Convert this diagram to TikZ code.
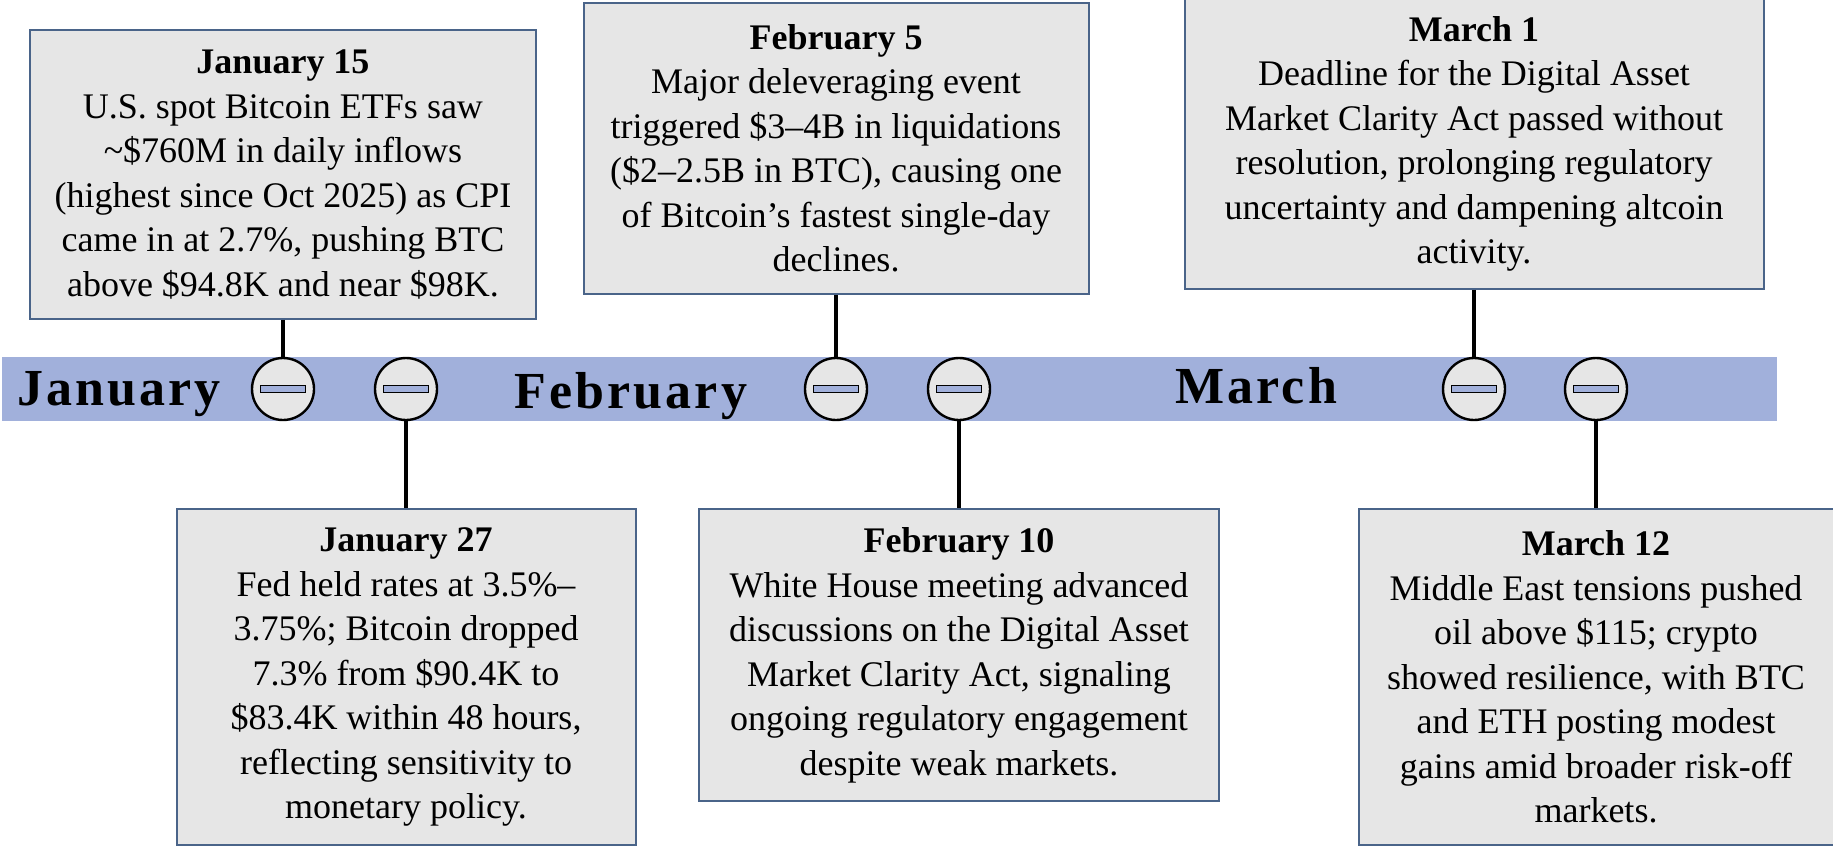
\documentclass[tikz,border=0pt]{standalone}
\usepackage{fontspec}
\setmainfont{Liberation Serif}
\newfontfamily\monthfont[LetterSpace=6]{Liberation Serif}
\usepackage{tikz}
\usetikzlibrary{positioning}
\definecolor{bandblue}{HTML}{A1B0DB}
\definecolor{cardgray}{HTML}{E6E6E6}
\definecolor{cardedge}{HTML}{4A6489}

\begin{document}
\begin{tikzpicture}[x=0.5pt, y=-0.5pt]
	\useasboundingbox (0,0) rectangle (1833,846);
	\fill[bandblue] (2,357) rectangle (1777,421);
	\begin{scope}[every node/.style = {anchor=base west, inner sep=0,
			font=\monthfont\bfseries\fontsize{26}{30}\selectfont}]
		\node (jan) at (17,405) {January};
		\node (feb) at (514,408) {February};
		\node (mar) at (1175,403) {March};
	\end{scope}
	\begin{scope}[every node/.style = {circle, draw=black, line width=1.2pt, fill=cardgray,
			minimum size=31pt, inner sep=0,
			path picture={\draw[line width=0.8pt, fill=bandblue]
				([xshift=-11.25pt, yshift=-1.75pt]path picture bounding box.center) rectangle ++(22.5pt,3.5pt);}}]
		\foreach \name/\x in {d15/283, d27/406, d5/836, d10/959, d1/1474, d12/1596}
			\node (\name) at (\x,389) {};
	\end{scope}
	\begin{scope}[every node/.style = {draw=cardedge, line width=1pt, fill=cardgray,
			align=center, inner sep=0, font=\fontsize{18}{22.25}\selectfont}]
		\node[minimum width=253pt, minimum height=144.5pt, above=18.5pt of d15] (e15)
			{\textbf{January 15}\\U.S. spot Bitcoin ETFs saw\\\textasciitilde\$760M in daily inflows\\(highest since Oct 2025) as CPI\\came in at 2.7\%, pushing BTC\\above \$94.8K and near \$98K.};
		\node[minimum width=229.5pt, minimum height=168pt, below=43.5pt of d27] (e27)
			{\textbf{January 27}\\Fed held rates at 3.5\%--\\3.75\%; Bitcoin dropped\\7.3\% from \$90.4K to\\\$83.4K within 48 hours,\\reflecting sensitivity to\\monetary policy.};
		\node[minimum width=252.5pt, minimum height=145.5pt, above=31pt of d5] (e5)
			{\textbf{February 5}\\Major deleveraging event\\triggered \$3--4B in liquidations\\(\$2--2.5B in BTC), causing one\\of Bitcoin’s fastest single-day\\declines.};
		\node[minimum width=260pt, minimum height=146pt, below=43.5pt of d10] (e10)
			{\textbf{February 10}\\White House meeting advanced\\discussions on the Digital Asset\\Market Clarity Act, signaling\\ongoing regulatory engagement\\despite weak markets.};
		\node[minimum width=289.5pt, minimum height=145pt, above=33.5pt of d1] (e1)
			{\textbf{March 1}\\Deadline for the Digital Asset\\Market Clarity Act passed without\\resolution, prolonging regulatory\\uncertainty and dampening altcoin\\activity.};
		\node[minimum width=237.5pt, minimum height=168pt, below=43.5pt of d12] (e12)
			{\textbf{March 12}\\Middle East tensions pushed\\oil above \$115; crypto\\showed resilience, with BTC\\and ETH posting modest\\gains amid broader risk-off\\markets.};
	\end{scope}
	\begin{scope}[every edge/.style={draw=black, line width=2pt}]
		\foreach \a/\b in {e15/d15, d27/e27, e5/d5, d10/e10, e1/d1, d12/e12}
			\path [-] (\a) edge (\b);
	\end{scope}
\end{tikzpicture}
\end{document}
